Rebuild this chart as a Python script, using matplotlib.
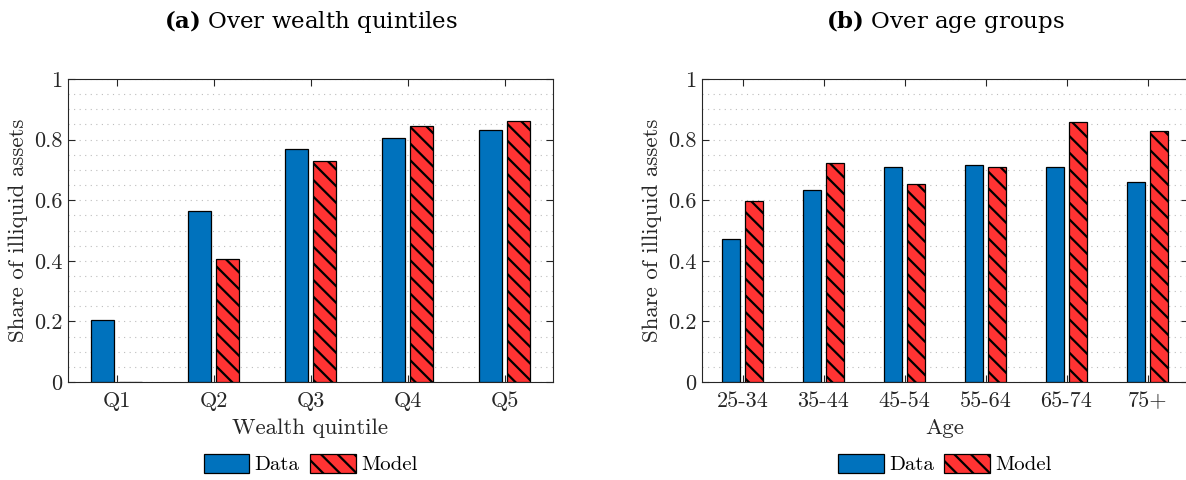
import matplotlib
matplotlib.use('Agg')
import matplotlib.pyplot as plt
import numpy as np
from matplotlib.ticker import MultipleLocator, FixedLocator

# ---- data ----
wealth_cats = ['Q1', 'Q2', 'Q3', 'Q4', 'Q5']
wealth_data = [0.206, 0.563, 0.768, 0.806, 0.833]
wealth_model = [0.0, 0.405, 0.730, 0.844, 0.861]

age_cats = ['25-34', '35-44', '45-54', '55-64', '65-74', '75+']
age_data = [0.471, 0.635, 0.710, 0.717, 0.710, 0.660]
age_model = [0.598, 0.724, 0.655, 0.709, 0.859, 0.830]

yticks = [0, 0.2, 0.4, 0.6, 0.8, 1]
ytick_labels = ['0', '0.2', '0.4', '0.6', '0.8', '1']

BLUE = '#0072BD'
RED = '#FF3333'

plt.rcParams['hatch.linewidth'] = 1.6
plt.rcParams['font.family'] = 'cmr10'
plt.rcParams['mathtext.fontset'] = 'custom'
plt.rcParams['mathtext.bf'] = 'DejaVu Serif:bold'
plt.rcParams['mathtext.rm'] = 'DejaVu Serif'
plt.rcParams['axes.unicode_minus'] = False

W, H = 1186, 480
fig = plt.figure(figsize=(W / 100, H / 100), dpi=100)
axa = fig.add_axes([68 / W, 1 - 382 / H, (553 - 68) / W, (382 - 79) / H])
axb = fig.add_axes([702 / W, 1 - 382 / H, (1188 - 702) / W, (382 - 79) / H])


def panel(ax, cats, d, m, xlabel, tag, title):
    x = np.arange(1, len(cats) + 1)
    w = 0.23
    off = 0.143
    ax.bar(x - off, d, w, color=BLUE, edgecolor='black', linewidth=0.9,
           label='Data', zorder=3)
    ax.bar(x + off, m, w, color=RED, edgecolor='black', linewidth=0.9,
           hatch='\\\\', label='Model', zorder=3)
    ax.set_xlim(0.5, len(cats) + 0.5)
    ax.set_ylim(0, 1)
    ax.set_xticks(x)
    ax.set_xticklabels(cats)
    ax.yaxis.set_major_locator(FixedLocator(yticks))
    ax.set_yticklabels(ytick_labels)
    ax.yaxis.set_minor_locator(MultipleLocator(0.05))
    ax.grid(True, which='both', axis='y', linestyle=(0, (1, 4)),
            color='#bdbdbd', linewidth=0.8, zorder=0)
    ax.set_axisbelow(True)
    ax.tick_params(which='major', direction='in', top=True, right=True,
                   length=5, width=0.8, color='#262626', labelsize=16,
                   labelcolor='#262626')
    ax.tick_params(axis='x', pad=7)
    ax.tick_params(axis='y', pad=4)
    ax.tick_params(which='minor', length=0)
    for s in ax.spines.values():
        s.set_color('#262626')
        s.set_linewidth(0.8)
    ax.set_xlabel(xlabel, fontsize=16.5, color='#262626', labelpad=5)
    ax.set_ylabel('Share of illiquid assets', fontsize=16.5, color='#262626',
                  labelpad=4)
    ax.set_title(r'$\mathbf{' + tag + r'}$ ' + title, fontsize=16.5,
                 family='DejaVu Serif', pad=37)
    ax.legend(loc='center', bbox_to_anchor=(0.5, -0.271), ncol=2,
              frameon=False, fontsize=15, handlelength=2.2,
              handleheight=1.0, handletextpad=0.25, columnspacing=0.5,
              borderpad=0)


panel(axa, wealth_cats, wealth_data, wealth_model, 'Wealth quintile', '(a)',
      'Over wealth quintiles')
panel(axb, age_cats, age_data, age_model, 'Age', '(b)', 'Over age groups')

fig.savefig('out.png', dpi=100)
